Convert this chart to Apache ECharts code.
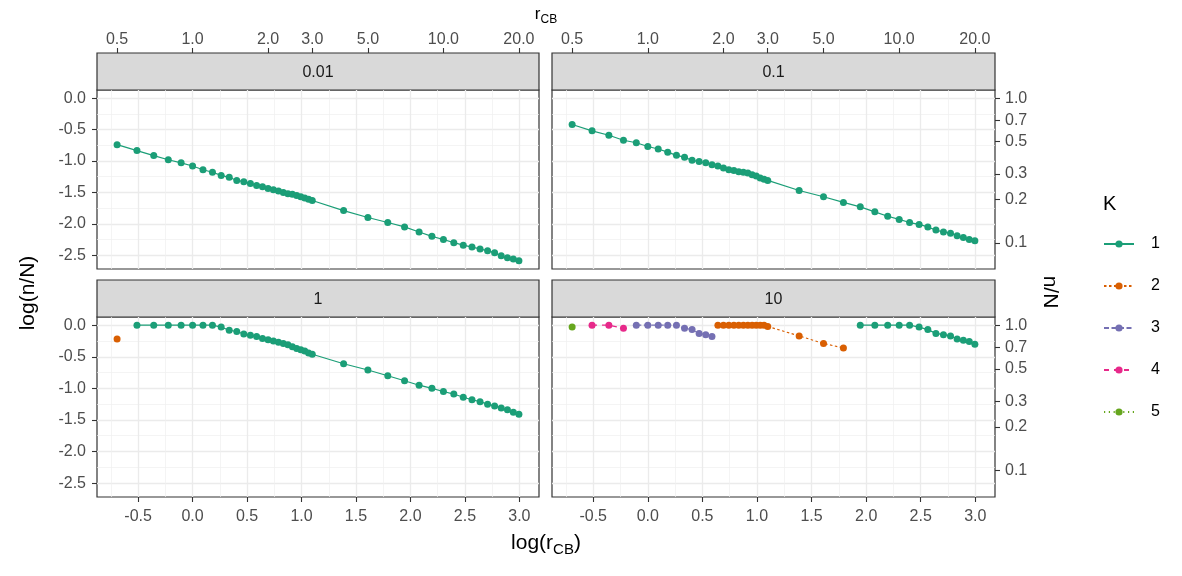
<!DOCTYPE html>
<html>
<head>
<meta charset="utf-8">
<script src="https://cdn.jsdelivr.net/npm/echarts@6/dist/echarts.min.js"></script>
<style>
    html, body { margin: 0; padding: 0; background: #fff; }
    #chart { width: 1182px; height: 576px; }
</style>
</head>
<body>
<div id="chart"></div>
<script>
    // r_CB values, the same for every panel
    var rCB = [0.5, 0.6, 0.7, 0.8, 0.9, 1.0, 1.1, 1.2, 1.3, 1.4, 1.5, 1.6, 1.7, 1.8, 1.9, 2.0, 2.1, 2.2, 2.3, 2.4, 2.5, 2.6, 2.7, 2.8, 2.9, 3.0,
        4, 5, 6, 7, 8, 9, 10, 11, 12, 13, 14, 15, 16, 17, 18, 19, 20];
    var facets = ['0.01', '0.1', '1', '10'];
    // log(n/N) per panel
    var y001 = [-0.74, -0.835, -0.915, -0.98, -1.03, -1.08, -1.14, -1.18, -1.23, -1.26, -1.31, -1.33, -1.36, -1.39, -1.41,
        -1.44, -1.46, -1.48, -1.50, -1.52, -1.53, -1.55, -1.57, -1.59, -1.61, -1.63,
        -1.79, -1.90, -1.98, -2.05, -2.13, -2.20, -2.25, -2.30, -2.34, -2.37, -2.40, -2.43, -2.46, -2.51, -2.54, -2.56, -2.59];
    var y01 = [-0.42, -0.52, -0.59, -0.67, -0.71, -0.77, -0.81, -0.86, -0.91, -0.94, -0.99, -1.01, -1.03, -1.06, -1.08,
        -1.11, -1.14, -1.15, -1.17, -1.18, -1.19, -1.22, -1.24, -1.27, -1.29, -1.31,
        -1.47, -1.57, -1.66, -1.73, -1.81, -1.88, -1.93, -1.98, -2.01, -2.05, -2.10, -2.13, -2.15, -2.19, -2.22, -2.25, -2.27];
    var y1 = [-0.22, 0, 0, 0, 0, 0, 0, 0, -0.03, -0.08, -0.10, -0.14, -0.16, -0.18, -0.21,
        -0.23, -0.25, -0.27, -0.29, -0.31, -0.34, -0.37, -0.39, -0.41, -0.44, -0.46,
        -0.61, -0.71, -0.80, -0.88, -0.95, -1.00, -1.05, -1.09, -1.14, -1.18, -1.21, -1.25, -1.28, -1.31, -1.34, -1.38, -1.41];
    var y10 = [-0.03, 0, 0, -0.05, 0, 0, 0, 0, 0, -0.05, -0.07, -0.13, -0.15, -0.18, 0,
        0, 0, 0, 0, 0, 0, 0, 0, 0, 0, -0.02,
        -0.17, -0.29, -0.36, 0, 0, 0, 0, 0, -0.03, -0.07, -0.13, -0.15, -0.17, -0.22, -0.24, -0.26, -0.30];
    // K of each point (panels 0.01 and 0.1 are all K = 1)
    var k1 = [2, 1, 1, 1, 1, 1, 1, 1, 1, 1, 1, 1, 1, 1, 1, 1, 1, 1, 1, 1, 1, 1, 1, 1, 1, 1,
        1, 1, 1, 1, 1, 1, 1, 1, 1, 1, 1, 1, 1, 1, 1, 1, 1];
    var k10 = [5, 4, 4, 4, 3, 3, 3, 3, 3, 3, 3, 3, 3, 3, 2, 2, 2, 2, 2, 2, 2, 2, 2, 2, 2, 2,
        2, 2, 2, 1, 1, 1, 1, 1, 1, 1, 1, 1, 1, 1, 1, 1, 1];
    var panelY = [y001, y01, y1, y10];
    var panelK = [null, null, k1, k10];

    var xTicks = [-0.5, 0, 0.5, 1, 1.5, 2, 2.5, 3];
    var xMinor = [-0.75, -0.25, 0.25, 0.75, 1.25, 1.75, 2.25, 2.75];
    var yTicks = [-2.5, -2, -1.5, -1, -0.5, 0];
    var yMinor = [-2.25, -1.75, -1.25, -0.75, -0.25];
    var topTicks = [0.5, 1, 2, 3, 5, 10, 20];
    var rightTicks = [1, 0.7, 0.5, 0.3, 0.2, 0.1];
    var kLevels = ['1', '2', '3', '4', '5'];

    var kColor = { 1: '#1B9E77', 2: '#D95F02', 3: '#7570B3', 4: '#E7298A', 5: '#66A61E' };
    var kDash = { 1: 'solid', 2: [2.5, 2.5], 3: [5, 2.5], 4: [5, 5], 5: [1.2, 3.6] };
    var FONT = '"Liberation Sans", Arial, sans-serif';

    // panel layout (px)
    var cols = [{ left: 97, width: 442 }, { left: 552, width: 443 }];
    var rows = [{ top: 90, height: 179 }, { top: 317, height: 180 }];
    var stripH = 37;

    // ggplot style 5% expansion of the data range
    var lx = rCB.map(function (v) { return Math.log(v); });
    var allY = [].concat(y001, y01, y1, y10);
    var xLo = Math.min.apply(null, lx), xHi = Math.max.apply(null, lx);
    var yLo = Math.min.apply(null, allY), yHi = Math.max.apply(null, allY);
    var xMin = xLo - 0.05 * (xHi - xLo), xMax = xHi + 0.05 * (xHi - xLo);
    var yMin = yLo - 0.05 * (yHi - yLo), yMax = yHi + 0.05 * (yHi - yLo);

    var grids = [], xAxes = [], yAxes = [], series = [], graphics = [];
    var tickStyle = { color: '#333333', width: 1.1 };
    var labelStyle = { color: '#4D4D4D', fontSize: 16, fontFamily: FONT };
    var majorLine = { show: true, lineStyle: { color: '#EBEBEB', width: 1.3 } };
    var minorLine = { show: true, lineStyle: { color: '#EFEFEF', width: 0.7 } };
    var fix1 = function (v) { return v.toFixed(1); };
    var exp1 = function (v) { return Math.exp(v).toFixed(1); };

    for (var p = 0; p < 4; p++) {
        var c = cols[p % 2], r = rows[Math.floor(p / 2)];
        grids.push({ left: c.left, top: r.top, width: c.width, height: r.height, show: true,
            borderColor: '#333333', borderWidth: 1.2, backgroundColor: '#fff' });
        var isBottom = p >= 2, isLeft = p % 2 == 0;
        xAxes.push({ type: 'value', gridIndex: p, min: xMin, max: xMax, position: 'bottom',
            axisLine: { show: false, onZero: false },
            axisTick: { show: isBottom, customValues: xTicks, length: 5, lineStyle: tickStyle },
            axisLabel: Object.assign({ show: isBottom, customValues: xTicks, margin: 12, formatter: fix1 }, labelStyle),
            splitLine: majorLine });
        yAxes.push({ type: 'value', gridIndex: p, min: yMin, max: yMax, position: 'left',
            axisLine: { show: false, onZero: false },
            axisTick: { show: isLeft, customValues: yTicks, length: 5, lineStyle: tickStyle },
            axisLabel: Object.assign({ show: isLeft, customValues: yTicks, margin: 11, formatter: fix1 }, labelStyle),
            splitLine: majorLine });
        // strip
        graphics.push({ type: 'rect', shape: { x: c.left, y: r.top - stripH, width: c.width, height: stripH },
            style: { fill: '#D9D9D9', stroke: '#333333', lineWidth: 1.2 } });
        graphics.push({ type: 'text', x: c.left + c.width / 2, y: r.top - stripH / 2 + 1,
            style: { text: facets[p], fill: '#1A1A1A', font: '16px ' + FONT, align: 'center', verticalAlign: 'middle' } });
    }
    // secondary axes: r_CB on top, n/N on the right
    for (var p = 0; p < 2; p++) {
        xAxes.push({ type: 'value', gridIndex: p, min: xMin, max: xMax, position: 'top', offset: stripH,
            axisLine: { show: false, onZero: false },
            axisTick: { customValues: topTicks.map(Math.log), length: 5, lineStyle: tickStyle },
            axisLabel: Object.assign({ customValues: topTicks.map(Math.log), margin: 5, formatter: exp1 }, labelStyle),
            splitLine: { show: false } });
    }
    [1, 3].forEach(function (p) {
        yAxes.push({ type: 'value', gridIndex: p, min: yMin, max: yMax, position: 'right',
            axisLine: { show: false, onZero: false },
            axisTick: { customValues: rightTicks.map(Math.log), length: 5, lineStyle: tickStyle },
            axisLabel: Object.assign({ customValues: rightTicks.map(Math.log), margin: 10, formatter: exp1 }, labelStyle),
            splitLine: { show: false } });
    });
    // minor grid lines
    for (var p = 0; p < 4; p++) {
        xAxes.push({ type: 'value', gridIndex: p, min: xMin, max: xMax,
            axisLine: { show: false, onZero: false }, axisTick: { show: false, customValues: xMinor },
            axisLabel: { show: false }, splitLine: minorLine });
        yAxes.push({ type: 'value', gridIndex: p, min: yMin, max: yMax,
            axisLine: { show: false, onZero: false }, axisTick: { show: false, customValues: yMinor },
            axisLabel: { show: false }, splitLine: minorLine });
    }

    // one line per run of the same K
    for (var p = 0; p < 4; p++) {
        var ys = panelY[p], ks = panelK[p];
        var cur = null;
        for (var i = 0; i < rCB.length; i++) {
            var k = ks ? ks[i] : 1;
            if (!cur || cur.k != k) {
                cur = { k: k, data: [] };
                series.push({ type: 'line', name: String(k), xAxisIndex: p, yAxisIndex: p, data: cur.data,
                    symbol: 'circle', symbolSize: 7, showAllSymbol: true, animation: false,
                    itemStyle: { color: kColor[k] },
                    lineStyle: { color: kColor[k], width: 1.2, type: kDash[k] } });
                cur.data = series[series.length - 1].data;
            }
            cur.data.push([lx[i], ys[i]]);
        }
    }

    // titles
    var sub = function (big, small) {
        return {
            a: { fontSize: big, fontFamily: FONT, fill: '#000', verticalAlign: 'bottom', padding: [0, 0, Math.round(big * 0.15), 0] },
            b: { fontSize: small, fontFamily: FONT, fill: '#000', verticalAlign: 'bottom' }
        };
    };
    graphics.push({ type: 'text', x: 546, y: 545,
        style: { text: '{a|log(r}{b|CB}{a|)}', rich: sub(21, 15), align: 'center', verticalAlign: 'middle' } });
    graphics.push({ type: 'text', x: 546, y: 16,
        style: { text: '{a|r}{b|CB}', rich: sub(17, 12), align: 'center', verticalAlign: 'middle' } });
    graphics.push({ type: 'text', x: 28, y: 293, rotation: Math.PI / 2,
        style: { text: 'log(n/N)', fill: '#000', font: '21px ' + FONT, align: 'center', verticalAlign: 'middle' } });
    graphics.push({ type: 'text', x: 1050, y: 292, rotation: -Math.PI / 2,
        style: { text: 'n/N', fill: '#000', font: '21px ' + FONT, align: 'center', verticalAlign: 'middle' } });
    graphics.push({ type: 'text', x: 1103, y: 204,
        style: { text: 'K', fill: '#000', font: '20px ' + FONT, align: 'left', verticalAlign: 'middle' } });

    var chart = echarts.init(document.getElementById('chart'), null, { renderer: 'canvas' });
    chart.setOption({
        backgroundColor: '#fff',
        animation: false,
        grid: grids,
        xAxis: xAxes,
        yAxis: yAxes,
        legend: {
            data: kLevels, orient: 'vertical', left: 1103, top: 236, padding: 0,
            itemWidth: 30, itemHeight: 9, itemGap: 26, selectedMode: false,
            textStyle: { color: '#000', fontSize: 16, fontFamily: FONT, padding: [0, 0, 0, 12] }
        },
        graphic: graphics,
        series: series
    });
</script>
</body>
</html>
